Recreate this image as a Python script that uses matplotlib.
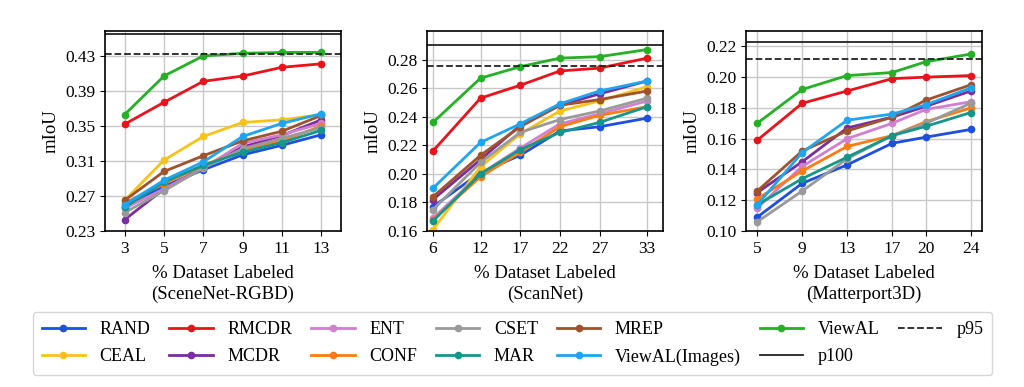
import numpy as np
import matplotlib.pyplot as plt

plt.rcParams['font.family'] = ['Liberation Serif', 'DejaVu Serif']
plt.rcParams['font.size'] = 12.5

methods = ['RAND', 'CEAL', 'RMCDR', 'MCDR', 'ENT', 'CONF', 'CSET', 'MAR',
           'MREP', 'ViewAL(Images)', 'ViewAL']
colors = {'RAND': '#1d4fe0', 'CEAL': '#f7c21a', 'RMCDR': '#e8141c',
          'MCDR': '#7b2c9e', 'ENT': '#d17fd0', 'CONF': '#fb7c14',
          'CSET': '#9a9a9a', 'MAR': '#16968a', 'MREP': '#a0522d',
          'ViewAL(Images)': '#1ea5ef', 'ViewAL': '#25b025'}

# SceneNet-RGBD
x_scenenet = [3, 5, 7, 9, 11, 13]
scenenet = {
    'RAND': [0.258, 0.281, 0.300, 0.317, 0.328, 0.340],
    'CEAL': [0.265, 0.311, 0.338, 0.354, 0.357, 0.363],
    'RMCDR': [0.352, 0.377, 0.401, 0.407, 0.417, 0.421],
    'MCDR': [0.243, 0.278, 0.303, 0.326, 0.339, 0.357],
    'ENT': [0.256, 0.278, 0.302, 0.330, 0.340, 0.353],
    'CONF': [0.262, 0.284, 0.305, 0.322, 0.333, 0.350],
    'CSET': [0.251, 0.276, 0.302, 0.324, 0.336, 0.348],
    'MAR': [0.257, 0.286, 0.305, 0.320, 0.331, 0.345],
    'MREP': [0.265, 0.298, 0.316, 0.333, 0.344, 0.362],
    'ViewAL(Images)': [0.260, 0.288, 0.309, 0.338, 0.353, 0.364],
    'ViewAL': [0.363, 0.407, 0.430, 0.433, 0.434, 0.434],
}
p100_scenenet = 0.4545

# ScanNet
x_scannet = [6, 12, 17, 22, 27, 33]
scannet = {
    'RAND': [0.177, 0.201, 0.213, 0.230, 0.233, 0.239],
    'CEAL': [0.161, 0.205, 0.228, 0.244, 0.251, 0.261],
    'RMCDR': [0.216, 0.253, 0.262, 0.272, 0.274, 0.281],
    'MCDR': [0.182, 0.210, 0.234, 0.248, 0.256, 0.265],
    'ENT': [0.169, 0.200, 0.218, 0.235, 0.242, 0.251],
    'CONF': [0.168, 0.198, 0.215, 0.233, 0.241, 0.247],
    'CSET': [0.175, 0.208, 0.229, 0.238, 0.244, 0.253],
    'MAR': [0.167, 0.200, 0.217, 0.229, 0.236, 0.247],
    'MREP': [0.184, 0.213, 0.233, 0.248, 0.252, 0.258],
    'ViewAL(Images)': [0.190, 0.222, 0.235, 0.249, 0.258, 0.265],
    'ViewAL': [0.236, 0.267, 0.275, 0.281, 0.282, 0.287],
}
p100_scannet = 0.290

# Matterport3D
x_matterport = [5, 9, 13, 17, 20, 24]
matterport = {
    'RAND': [0.109, 0.131, 0.143, 0.157, 0.161, 0.166],
    'RMCDR': [0.159, 0.183, 0.191, 0.199, 0.200, 0.201],
    'MCDR': [0.125, 0.145, 0.167, 0.174, 0.181, 0.191],
    'ENT': [0.115, 0.142, 0.160, 0.170, 0.179, 0.184],
    'CONF': [0.121, 0.139, 0.155, 0.162, 0.171, 0.180],
    'CSET': [0.106, 0.126, 0.147, 0.162, 0.170, 0.183],
    'MAR': [0.117, 0.134, 0.148, 0.162, 0.168, 0.177],
    'MREP': [0.126, 0.152, 0.165, 0.174, 0.185, 0.195],
    'ViewAL(Images)': [0.117, 0.151, 0.172, 0.176, 0.182, 0.193],
    'ViewAL': [0.170, 0.192, 0.201, 0.203, 0.210, 0.215],
}
p100_matterport = 0.223

panels = [
    (x_scenenet, scenenet, p100_scenenet, '(SceneNet-RGBD)',
     (2, 14), (0.23, 0.4585), np.arange(0.23, 0.44, 0.04)),
    (x_scannet, scannet, p100_scannet, '(ScanNet)',
     (5.25, 35), (0.16, 0.30), np.arange(0.16, 0.29, 0.02)),
    (x_matterport, matterport, p100_matterport, '(Matterport3D)',
     (4, 25), (0.10, 0.230), np.arange(0.10, 0.23, 0.02)),
]

fig = plt.figure(figsize=(10.24, 3.87), dpi=100)
lefts = [0.1025, 0.417, 0.7285]
handles = {}
for left, (xs, data, p100, name, xlim, ylim, yticks) in zip(lefts, panels):
    ax = fig.add_axes([left, 0.403, 0.2305, 0.517])
    ax.grid(True, color='#c8c8c8', lw=1.0)
    ax.set_axisbelow(True)
    for m in methods:
        if m not in data:
            continue
        h, = ax.plot(xs, data[m], '-o', color=colors[m], lw=2, ms=4.5, label=m)
        handles[m] = h
    h100 = ax.axhline(p100, color='#222222', lw=1.3, label='p100')
    h95 = ax.axhline(0.95 * p100, color='#222222', lw=1.3, ls='--', label='p95')
    handles['p100'] = h100
    handles['p95'] = h95
    ax.set_xlim(*xlim)
    ax.set_ylim(*ylim)
    ax.set_xticks(xs)
    ax.set_yticks(yticks)
    ax.set_yticklabels(['%.2f' % v for v in yticks])
    ax.set_ylabel('mIoU', fontsize=13.5)
    ax.set_xlabel('% Dataset Labeled\n' + name, fontsize=13.5,
                  linespacing=1.25, labelpad=6)
    for s in ax.spines.values():
        s.set_linewidth(1.2)

order = methods + ['p100', 'p95']
leg = fig.legend([handles[k] for k in order], order, ncol=7,
                 loc='lower left', bbox_to_anchor=(0.032, 0.032, 0.937, 0.16),
                 mode='expand', borderaxespad=0, handlelength=2.4, fontsize=13,
                 frameon=True, fancybox=True, borderpad=0.5,
                 labelspacing=0.55, handletextpad=0.8)
leg.get_frame().set_edgecolor('#cccccc')

fig.savefig('out.png', dpi=100)
